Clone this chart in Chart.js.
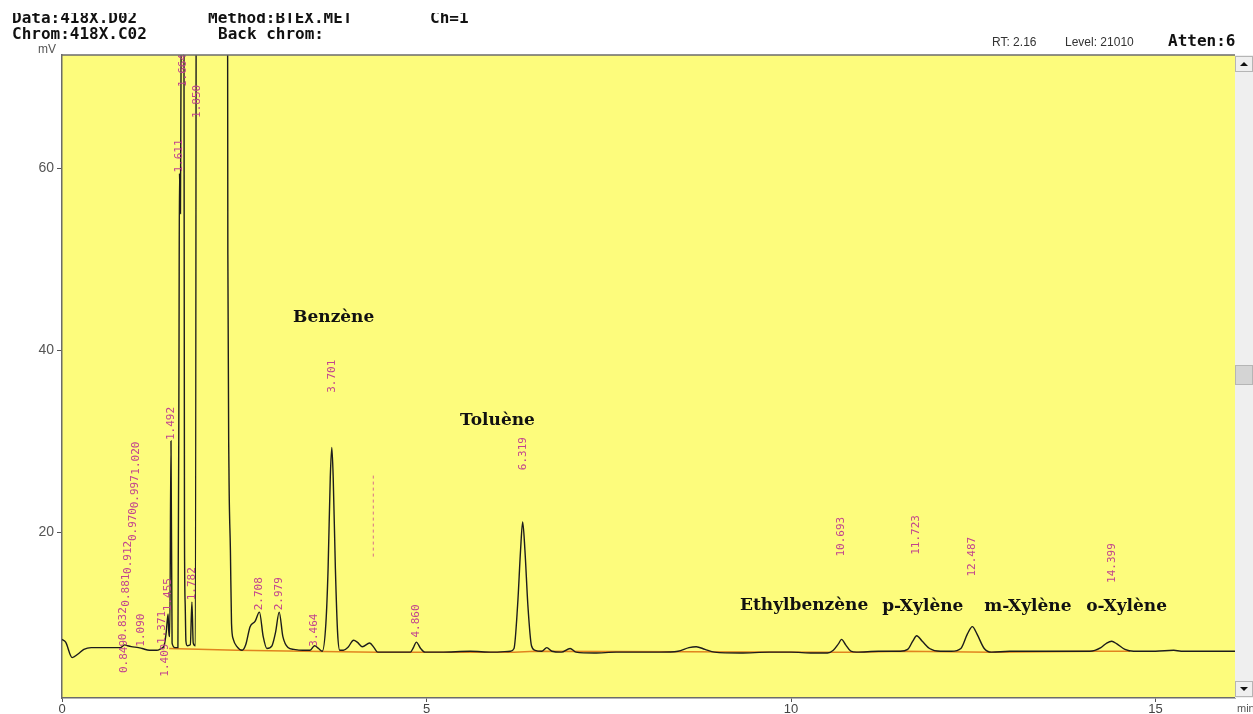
<!DOCTYPE html>
<html>
<head>
<meta charset="utf-8">
<script src="https://cdn.jsdelivr.net/npm/chart.js@4.4.1/dist/chart.umd.min.js"></script>
<style>
  body { margin: 0; background: #fff; }
  canvas { display: block; }
</style>
</head>
<body>
<canvas id="chromChart" width="1253" height="714"></canvas>
<script>
// detector signal: time (min) / response (mV)
var sigTime = [0, 0.05, 0.14, 0.22, 0.3, 0.4, 0.6, 0.8, 0.86, 0.9, 0.95, 1.05, 1.1, 1.2, 1.3, 1.36, 1.4,
  1.43, 1.455, 1.465, 1.478, 1.495, 1.51, 1.55, 1.59, 1.605, 1.611, 1.625, 1.64, 1.664, 1.68, 1.69, 1.7,
  1.72, 1.76, 1.782, 1.8, 1.83, 1.85, 2.0, 2.26, 2.275, 2.29, 2.31, 2.325, 2.35, 2.4, 2.47, 2.52, 2.58,
  2.65, 2.708, 2.76, 2.81, 2.88, 2.93, 2.979, 3.03, 3.1, 3.18, 3.3, 3.4, 3.464, 3.52, 3.57, 3.62, 3.65,
  3.68, 3.701, 3.72, 3.75, 3.78, 3.81, 3.86, 3.92, 4.0, 4.05, 4.12, 4.22, 4.28, 4.33, 4.45, 4.6, 4.78,
  4.82, 4.86, 4.92, 4.98, 5.2, 5.6, 5.9, 6.15, 6.2, 6.25, 6.29, 6.319, 6.35, 6.39, 6.44, 6.49, 6.58,
  6.65, 6.72, 6.85, 6.97, 7.05, 7.3, 7.6, 7.9, 8.2, 8.45, 8.6, 8.7, 8.82, 8.95, 9.3, 9.7, 10.0, 10.3,
  10.5, 10.58, 10.65, 10.693, 10.75, 10.82, 10.9, 11.2, 11.5, 11.6, 11.67, 11.723, 11.8, 11.9, 12.05,
  12.2, 12.33, 12.42, 12.487, 12.55, 12.65, 12.75, 13.0, 13.4, 13.8, 14.1, 14.25, 14.33, 14.399, 14.47,
  14.58, 14.7, 15.0, 15.25, 15.35, 15.6, 15.9, 16.09];
var sigMv = [8.2, 7.9, 6.2, 6.6, 7.1, 7.3, 7.3, 7.3, 7.6, 7.5, 7.4, 7.3, 7.2, 7.0, 7.0, 7.2, 7.5,
  9.0, 11.0, 9.0, 8.5, 30.0, 7.8, 7.3, 7.3, 40, 59.4, 55, 90, 140, 20, 12, 8.0,
  7.5, 7.6, 12.3, 7.8, 7.5, 150, 150, 150, 50.5, 27, 18, 10, 8.2, 7.4, 7.0, 7.6, 9.6,
  10.2, 11.2, 8.5, 7.2, 7.5, 9.0, 11.2, 8.5, 7.3, 7.1, 7.0, 7.0, 7.5, 7.2, 6.9, 10, 16,
  26, 29.3, 26, 16, 9, 7.0, 7.0, 7.3, 8.1, 7.9, 7.4, 7.8, 7.3, 6.8, 6.8, 6.8, 6.8,
  7.3, 7.9, 7.2, 6.8, 6.8, 6.9, 6.8, 6.9, 7.2, 12, 18, 21.1, 18, 12, 7.5, 7.0, 6.9,
  7.3, 6.9, 6.8, 7.2, 6.8, 6.7, 6.8, 6.8, 6.8, 6.9, 7.3, 7.4, 7.1, 6.8, 6.7, 6.8, 6.8, 6.7,
  6.7, 7.0, 7.7, 8.2, 7.6, 6.9, 6.8, 6.9, 6.9, 7.1, 8.0, 8.6, 8.0, 7.2, 6.9,
  6.9, 7.2, 8.8, 9.6, 8.8, 7.2, 6.8, 6.9, 6.9, 6.9, 6.9, 7.3, 7.8, 8.0, 7.7,
  7.1, 6.9, 6.9, 7.0, 6.9, 6.9, 6.9, 6.9];

// integration baseline drawn under the peaks
var baseTime = [1.47, 2.4, 3.3, 4.33, 6.2, 6.49, 10.55, 10.85, 11.55, 12.75, 14.2, 14.65];
var baseMv = [7.2, 7.0, 6.9, 6.8, 6.8, 6.9, 6.8, 6.8, 6.9, 6.8, 6.9, 6.9];

// dashed marker after benzene
var markTime = [4.27, 4.27];
var markMv = [17.3, 26.3];

// retention time labels, each with the response where its text starts
var peakTime = [0.849, 0.832, 0.881, 0.912, 0.970, 0.997, 1.020, 1.090, 1.409, 1.371, 1.455, 1.492,
  1.611, 1.664, 1.850, 1.782, 2.708, 2.979, 3.464, 3.701, 4.860, 6.319, 10.693, 11.723, 12.487, 14.399];
var peakText = ["0.849", "0.832", "0.881", "0.912", "0.970", "0.997", "1.020", "1.090", "1.409", "1.371",
  "1.455", "1.492", "1.611", "1.664", "1.850", "1.782", "2.708", "2.979", "3.464", "3.701", "4.860",
  "6.319", "10.693", "11.723", "12.487", "14.399"];
var peakTextMv = [4.5, 8.1, 11.8, 15.4, 19.0, 22.6, 26.3, 7.4, 4.1, 7.7, 11.3, 30.1,
  59.5, 68.9, 65.5, 12.5, 11.4, 11.4, 7.4, 35.3, 8.4, 26.8, 17.3, 17.5, 15.1, 14.4];

// compound names, anchored at (time, mV) of the start of their baseline
var compounds = ["Benzène", "Toluène", "Ethylbenzène", "p-Xylène", "m-Xylène", "o-Xylène"];
var compoundTime = [3.17, 5.46, 9.30, 11.25, 12.65, 14.05];
var compoundMv = [43.1, 31.8, 11.4, 11.3, 11.3, 11.3];

var xTicks = [0, 5, 10, 15];
var yTicks = [20, 40, 60];
var xMax = 16.09;
var yMin = 1.76;
var yMax = 72.42;

function toPoints(xs, ys) {
  var pts = [];
  for (var i = 0; i < xs.length; i++) {
    pts.push({ x: xs[i], y: ys[i] });
  }
  return pts;
}

var chromDecor = {
  id: "chromDecor",
  beforeDraw: function (chart) {
    var ctx = chart.ctx;
    var a = chart.chartArea;
    ctx.save();
    ctx.fillStyle = "#fdfc7c";
    ctx.fillRect(a.left, a.top, a.right - a.left, a.bottom - a.top);
    ctx.restore();
  },
  afterDatasetsDraw: function (chart) {
    var ctx = chart.ctx;
    var xs = chart.scales.x;
    var ys = chart.scales.y;
    ctx.save();
    // retention times, rotated
    ctx.font = "11px 'DejaVu Sans Mono'";
    ctx.fillStyle = "#c2448e";
    ctx.textAlign = "left";
    ctx.textBaseline = "middle";
    for (var i = 0; i < peakTime.length; i++) {
      ctx.save();
      ctx.translate(xs.getPixelForValue(peakTime[i]), ys.getPixelForValue(peakTextMv[i]));
      ctx.rotate(-Math.PI / 2);
      ctx.fillText(peakText[i], 0, 0);
      ctx.restore();
    }
    // compound names
    ctx.font = "bold 17px 'DejaVu Serif'";
    ctx.fillStyle = "#111";
    ctx.textBaseline = "alphabetic";
    for (var j = 0; j < compounds.length; j++) {
      ctx.fillText(compounds[j], xs.getPixelForValue(compoundTime[j]), ys.getPixelForValue(compoundMv[j]));
    }
    ctx.restore();
  },
  afterDraw: function (chart) {
    var ctx = chart.ctx;
    var a = chart.chartArea;
    var w = chart.width;
    ctx.save();

    // frame top
    ctx.strokeStyle = "#6b6b6b";
    ctx.lineWidth = 1.5;
    ctx.beginPath();
    ctx.moveTo(a.left, a.top);
    ctx.lineTo(a.right, a.top);
    ctx.stroke();

    // scroll bar on the right
    ctx.fillStyle = "#efefef";
    ctx.fillRect(a.right, a.top, w - a.right, a.bottom - a.top);
    ctx.strokeStyle = "#b5b5b5";
    ctx.lineWidth = 1;
    ctx.strokeRect(a.right + 0.5, a.top + 1.5, w - a.right - 1, 15);
    ctx.strokeRect(a.right + 0.5, a.bottom - 16.5, w - a.right - 1, 15);
    ctx.fillStyle = "#d4d4d4";
    ctx.fillRect(a.right + 1, 366, w - a.right - 1, 18);
    ctx.strokeRect(a.right + 0.5, 365.5, w - a.right - 1, 19);
    var cx = (a.right + w) / 2;
    ctx.fillStyle = "#111";
    ctx.beginPath();
    ctx.moveTo(cx - 4, a.top + 11);
    ctx.lineTo(cx + 4, a.top + 11);
    ctx.lineTo(cx, a.top + 7);
    ctx.fill();
    ctx.beginPath();
    ctx.moveTo(cx - 4, a.bottom - 11);
    ctx.lineTo(cx + 4, a.bottom - 11);
    ctx.lineTo(cx, a.bottom - 7);
    ctx.fill();

    // header, first row is cut at the top of the window
    ctx.fillStyle = "#111";
    ctx.font = "bold 16px 'DejaVu Sans Mono'";
    ctx.save();
    ctx.beginPath();
    ctx.rect(0, 13, w, 20);
    ctx.clip();
    ctx.fillText("Data:418X.D02", 12, 23);
    ctx.fillText("Method:BTEX.MET", 208, 23);
    ctx.fillText("Ch=1", 430, 23);
    ctx.restore();
    ctx.fillText("Chrom:418X.C02", 12, 39);
    ctx.fillText("Back chrom:", 218, 39);
    ctx.fillText("Atten:6", 1168, 46);

    ctx.font = "12px 'Liberation Sans'";
    ctx.fillStyle = "#333";
    ctx.fillText("RT: 2.16", 992, 46);
    ctx.fillText("Level: 21010", 1065, 46);

    ctx.fillStyle = "#555";
    ctx.fillText("mV", 38, 53);
    ctx.font = "11px 'Liberation Sans'";
    ctx.fillText("min", a.right + 2, 712);
    ctx.restore();
  }
};

var axisFont = { family: "'Liberation Sans'", size: 14 };

new Chart(document.getElementById("chromChart"), {
  type: "line",
  data: {
    datasets: [
      {
        data: toPoints(sigTime, sigMv),
        borderColor: "#1c1c1c",
        borderWidth: 1.4,
        pointRadius: 0,
        cubicInterpolationMode: "monotone",
        order: 0,
      },
      {
        data: toPoints(baseTime, baseMv),
        borderColor: "#e0841f",
        borderWidth: 1.5,
        pointRadius: 0,
        order: 1,
      },
      {
        data: toPoints(markTime, markMv),
        borderColor: "#d9708a",
        borderWidth: 1,
        borderDash: [3, 3],
        pointRadius: 0,
        order: 2,
      },
    ],
  },
  options: {
    responsive: false,
    animation: false,
    layout: { padding: { left: 0, right: 18, top: 55, bottom: 0 } },
    plugins: { legend: { display: false }, tooltip: { enabled: false } },
    scales: {
      x: {
        type: "linear",
        min: 0,
        max: xMax,
        afterBuildTicks: function (s) {
          s.ticks = xTicks.map(function (v) { return { value: v }; });
        },
        afterFit: function (s) { s.height = 16; },
        grid: { drawOnChartArea: false, tickLength: 4, tickColor: "#555" },
        border: { color: "#6b6b6b", width: 1.5 },
        ticks: { font: { family: "'Liberation Sans'", size: 13 }, color: "#444", padding: 0, maxRotation: 0 },
      },
      y: {
        type: "linear",
        min: yMin,
        max: yMax,
        afterBuildTicks: function (s) {
          s.ticks = yTicks.map(function (v) { return { value: v }; });
        },
        afterFit: function (s) { s.width = 62; },
        grid: { drawOnChartArea: false, tickLength: 5, tickColor: "#555" },
        border: { color: "#6b6b6b", width: 1.5 },
        ticks: { font: axisFont, color: "#555", padding: 3 },
      },
    },
  },
  plugins: [chromDecor],
});
</script>
</body>
</html>
